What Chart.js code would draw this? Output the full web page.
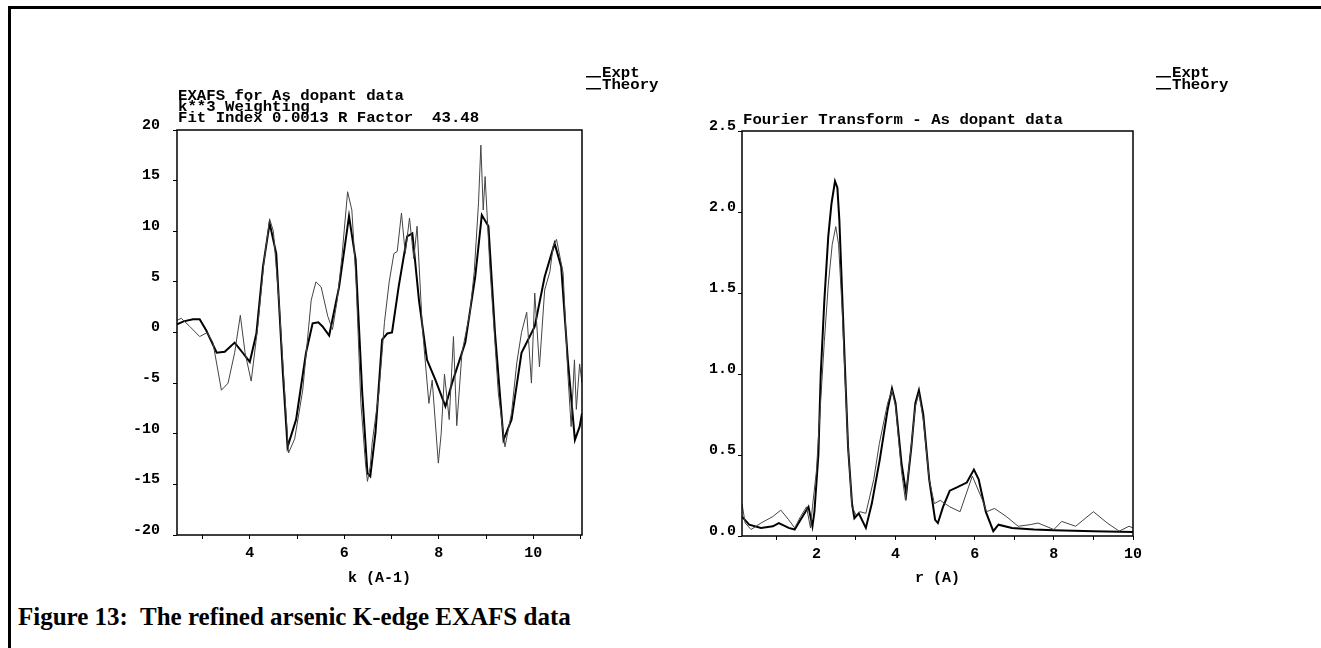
<!DOCTYPE html>
<html>
<head>
<meta charset="utf-8">
<script src="https://cdn.jsdelivr.net/npm/chart.js@4.4.1/dist/chart.umd.min.js"></script>
<style>
  body { margin: 0; background: #fff; width: 1321px; height: 648px; overflow: hidden; position: relative; }
  #frame { position: absolute; left: 8px; top: 6px; right: 0; bottom: 0; border-top: 3px solid #000; border-left: 3px solid #000; }
  canvas { position: absolute; top: 0; }
  #exafs { left: 0; }
  #ft { left: 660px; }
  #caption { position: absolute; left: 18px; top: 604px; font: bold 25px "Liberation Serif", serif; line-height: 25px; white-space: pre; color: #000; }
</style>
</head>
<body>
<div id="frame"></div>
<canvas id="exafs" width="700" height="600"></canvas>
<canvas id="ft" width="661" height="600"></canvas>
<div id="caption">Figure 13:  The refined arsenic K-edge EXAFS data</div>
<script>
// EXAFS k^3 chi(k)
const kTheory = [2.46, 2.6, 2.8, 2.94, 3.08, 3.2, 3.3, 3.47, 3.68, 3.85, 4.0, 4.14, 4.28, 4.42, 4.56, 4.7, 4.8, 4.98,
  5.19, 5.33, 5.45, 5.54, 5.68, 5.89, 6.1, 6.24, 6.38, 6.49, 6.55, 6.66, 6.8, 6.91, 7.01, 7.15, 7.33, 7.44, 7.58,
  7.75, 7.93, 8.14, 8.28, 8.56, 8.77, 8.91, 9.05, 9.19, 9.37, 9.54, 9.75, 10.03, 10.24, 10.45, 10.59, 10.73, 10.88, 10.98, 11.03];
const chiTheory = [0.8, 1.1, 1.3, 1.3, 0.2, -1.0, -2.0, -1.9, -1.0, -2.0, -2.9, -0.1, 6.5, 10.8, 7.8, -4.0, -11.3, -8.6,
  -2.0, 0.9, 1.0, 0.6, -0.3, 4.5, 11.5, 7.2, -6.0, -13.9, -14.2, -9.9, -0.7, -0.1, 0.0, 4.5, 9.5, 9.8, 3.2,
  -2.7, -4.7, -7.3, -5.0, -1.0, 5.5, 11.6, 10.5, -0.1, -10.6, -8.6, -2.0, 0.6, 5.5, 8.8, 6.5, -2.7, -10.6, -9.3, -8.0];
const kExpt = [2.46, 2.55, 2.73, 2.94, 3.1, 3.22, 3.4, 3.54, 3.68, 3.8, 3.9, 4.03, 4.17, 4.3, 4.42, 4.5, 4.55, 4.62,
  4.7, 4.82, 4.95, 5.12, 5.3, 5.4, 5.51, 5.65, 5.75, 5.85, 5.95, 6.07, 6.16, 6.25, 6.35, 6.45, 6.49, 6.55, 6.59,
  6.73, 6.85, 6.95, 7.05, 7.12, 7.21, 7.29, 7.38, 7.47, 7.54, 7.65, 7.79, 7.86, 7.99, 8.05, 8.12, 8.22, 8.31, 8.38,
  8.49, 8.66, 8.75, 8.84, 8.89, 8.94, 8.98, 9.08, 9.26, 9.4, 9.54, 9.65, 9.75, 9.86, 9.96, 10.03, 10.13, 10.24,
  10.35, 10.42, 10.49, 10.63, 10.73, 10.8, 10.87, 10.91, 10.98, 11.03];
const chiExpt = [1.2, 1.4, 0.6, -0.4, 0.0, -1.0, -5.7, -5.0, -2.0, 1.7, -2.0, -4.8, 0.6, 7.0, 11.2, 10.0, 7.0, 3.0,
  -3.0, -11.9, -10.5, -5.7, 3.2, 5.0, 4.5, 1.6, 0.3, 3.2, 7.5, 13.9, 12.1, 5.0, -6.9, -13.0, -14.7, -13.2, -10.9,
  -6.0, 1.0, 5.0, 7.8, 8.0, 11.8, 7.8, 11.3, 7.3, 10.5, 0.6, -7.0, -4.7, -12.9, -10.0, -4.1, -8.6, -0.4, -9.2,
  -2.0, 2.0, 6.0, 12.8, 18.5, 12.1, 15.4, 6.5, -6.0, -11.3, -7.9, -3.0, 0.0, 2.0, -5.0, 3.9, -3.4, 4.2,
  6.0, 8.5, 9.2, 5.9, -4.0, -9.3, -2.7, -7.6, -3.1, -5.0];

// Fourier transform magnitude
const rTheory = [0.12, 0.3, 0.6, 0.9, 1.05, 1.3, 1.45, 1.6, 1.8, 1.9, 1.95, 2.05, 2.11, 2.2, 2.3, 2.38, 2.47, 2.53,
  2.58, 2.65, 2.72, 2.8, 2.9, 2.96, 3.07, 3.25, 3.4, 3.6, 3.8, 3.91, 4.0, 4.15, 4.27, 4.4, 4.5, 4.59, 4.7, 4.85,
  5.0, 5.07, 5.2, 5.37, 5.55, 5.8, 5.98, 6.1, 6.28, 6.47, 6.6, 6.94, 7.5, 8.0, 9.0, 10.0];
const ftTheory = [0.12, 0.07, 0.05, 0.06, 0.08, 0.05, 0.04, 0.10, 0.18, 0.06, 0.15, 0.5, 1.0, 1.45, 1.85, 2.05, 2.19, 2.15,
  1.95, 1.5, 1.05, 0.55, 0.2, 0.11, 0.14, 0.05, 0.2, 0.47, 0.78, 0.91, 0.82, 0.45, 0.26, 0.55, 0.82, 0.90, 0.75, 0.35,
  0.1, 0.08, 0.18, 0.28, 0.30, 0.33, 0.41, 0.35, 0.15, 0.03, 0.07, 0.05, 0.04, 0.035, 0.03, 0.025];
const rExpt = [0.12, 0.2, 0.35, 0.6, 0.9, 1.1, 1.3, 1.45, 1.6, 1.75, 1.85, 1.9, 2.0, 2.1, 2.2, 2.3, 2.4, 2.49, 2.56,
  2.65, 2.72, 2.8, 2.9, 3.0, 3.1, 3.25, 3.45, 3.59, 3.8, 3.91, 4.0, 4.15, 4.25, 4.35, 4.5, 4.59, 4.7, 4.85, 4.98,
  5.13, 5.37, 5.63, 5.94, 6.2, 6.3, 6.5, 6.8, 7.1, 7.4, 7.6, 7.8, 8.0, 8.2, 8.55, 9.0, 9.35, 9.65, 9.9, 10.0];
const ftExpt = [0.2, 0.08, 0.04, 0.08, 0.12, 0.16, 0.10, 0.05, 0.12, 0.18, 0.05, 0.18, 0.4, 0.8, 1.2, 1.55, 1.8, 1.91, 1.8,
  1.4, 1.0, 0.55, 0.18, 0.13, 0.15, 0.14, 0.35, 0.57, 0.82, 0.90, 0.8, 0.4, 0.22, 0.45, 0.8, 0.88, 0.72, 0.35, 0.2,
  0.22, 0.18, 0.15, 0.37, 0.22, 0.15, 0.17, 0.12, 0.06, 0.07, 0.08, 0.06, 0.04, 0.09, 0.06, 0.15, 0.08, 0.03, 0.06, 0.05];

const seriesNames = ['Expt', 'Theory'];
const exafsTitle = ['EXAFS for As dopant data', 'k**3 Weighting', 'Fit Index 0.0013 R Factor  43.48'];
const ftTitle = ['Fourier Transform - As dopant data'];

const mono = '"Liberation Mono", "Courier New", monospace';

const pts = (xs, ys) => xs.map((x, i) => ({ x: x, y: ys[i] }));

// plot frame, stacked title lines and the little "__Expt / __Theory" key
// (typewriter text is wide but short, so the 14px font gets stretched sideways)
const decor = {
  id: 'decor',
  afterDraw(chart, args, opts) {
    const { ctx, chartArea: a } = chart;
    const sx = 1.12;
    ctx.save();
    ctx.strokeStyle = '#000';
    ctx.lineWidth = 1.5;
    ctx.strokeRect(a.left, a.top, a.right - a.left, a.bottom - a.top);
    ctx.fillStyle = '#000';
    ctx.font = 'bold 14px ' + mono;
    ctx.textBaseline = 'alphabetic';
    ctx.scale(sx, 1);
    opts.title.forEach((t, i) => ctx.fillText(t, (a.left + 1) / sx, opts.titleY + i * 11));
    chart.data.datasets.forEach((ds, i) => {
      const y = opts.keyY + i * 12;
      ctx.fillRect((opts.keyX - 16) / sx, y - 1, 15 / sx, 1.5);
      ctx.fillText(ds.label, opts.keyX / sx, y);
    });
    ctx.restore();
  }
};

function axisTicks(cb, pad, offset) {
  return { font: { family: mono, size: 15, weight: 'bold' }, color: '#000', padding: pad, labelOffset: offset, callback: cb };
}
const gridOpts = { drawOnChartArea: false, drawTicks: true, tickLength: 4, color: '#000', lineWidth: 1 };
const evenOnly = v => (v % 2 === 0 ? String(v) : '');

function makeChart(id, cfg) {
  return new Chart(document.getElementById(id), {
    type: 'line',
    data: {
      datasets: [
        { label: seriesNames[0], data: cfg.expt, borderColor: '#444', borderWidth: 1, pointRadius: 0, tension: 0 },
        { label: seriesNames[1], data: cfg.theory, borderColor: '#000', borderWidth: 2, pointRadius: 0, tension: 0 }
      ]
    },
    options: {
      responsive: false,
      animation: false,
      layout: { padding: cfg.padding },
      scales: {
        x: {
          type: 'linear', min: cfg.xMin, max: cfg.xMax,
          ticks: Object.assign(axisTicks(evenOnly, 5, 0), { stepSize: 1, includeBounds: false, maxRotation: 0, autoSkip: false }),
          grid: gridOpts, border: { display: false },
          title: { display: true, text: cfg.xTitle, color: '#000', font: { family: mono, size: 15, weight: 'bold' }, padding: { top: 0, bottom: 13 } },
          afterFit: s => { s.height = cfg.xHeight; }
        },
        y: {
          min: cfg.yMin, max: cfg.yMax,
          ticks: Object.assign(axisTicks(cfg.yFmt, cfg.yPad, -5), { stepSize: cfg.yStep }),
          grid: gridOpts, border: { display: false },
          afterFit: s => { s.width = cfg.yWidth; }
        }
      },
      plugins: {
        legend: { display: false },
        tooltip: { enabled: false },
        decor: { title: cfg.title, titleY: cfg.titleY, keyX: cfg.keyX, keyY: 77 }
      }
    },
    plugins: [decor]
  });
}

makeChart('exafs', {
  expt: pts(kExpt, chiExpt), theory: pts(kTheory, chiTheory),
  xMin: 2.46, xMax: 11.03, xTitle: 'k (A-1)', xHeight: 65,
  yMin: -20, yMax: 20, yStep: 5, yFmt: v => String(v), yPad: 13, yWidth: 100,
  padding: { left: 77, top: 130, right: 118, bottom: 0 },
  title: exafsTitle, titleY: 100, keyX: 602
});

makeChart('ft', {
  expt: pts(rExpt, ftExpt), theory: pts(rTheory, ftTheory),
  xMin: 0.12, xMax: 10, xTitle: 'r (A)', xHeight: 64,
  yMin: 0, yMax: 2.5, yStep: 0.5, yFmt: v => v.toFixed(1), yPad: 2, yWidth: 60,
  padding: { left: 22, top: 131, right: 188, bottom: 0 },
  title: ftTitle, titleY: 124, keyX: 512
});
</script>
</body>
</html>
